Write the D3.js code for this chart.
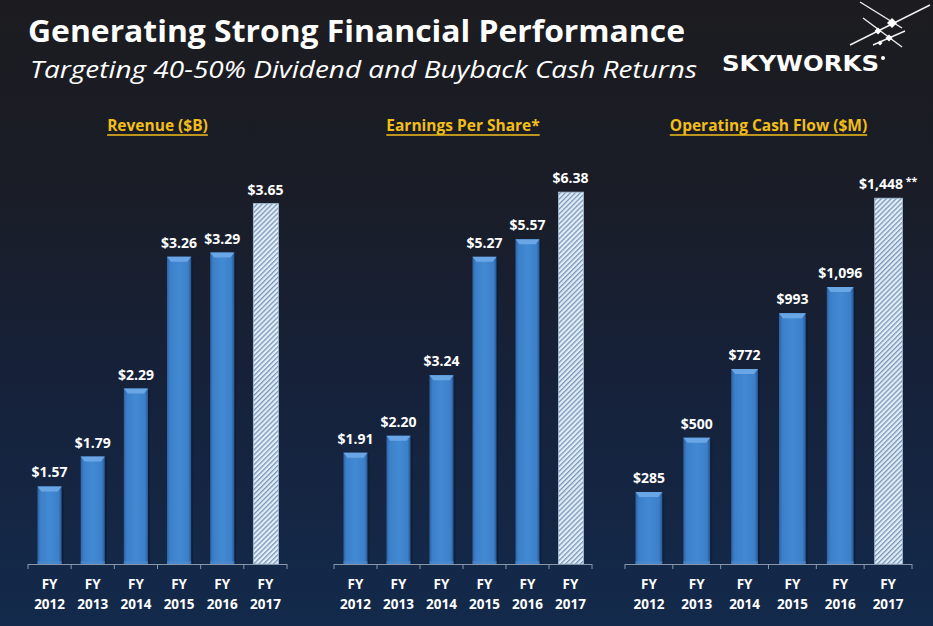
<!DOCTYPE html>
<html><head><meta charset="utf-8">
<script src="https://cdn.jsdelivr.net/npm/d3@7"></script>
<style>html,body{margin:0;padding:0;background:#16213a;}svg{display:block;}</style>
</head><body>
<script>
const years = ["FY 2012","FY 2013","FY 2014","FY 2015","FY 2016","FY 2017"];
const revenue = [1.57,1.79,2.29,3.26,3.29,3.65];
const revenueLabels = ["$1.57","$1.79","$2.29","$3.26","$3.29","$3.65"];
const eps = [1.91,2.20,3.24,5.27,5.57,6.38];
const epsLabels = ["$1.91","$2.20","$3.24","$5.27","$5.57","$6.38"];
const ocf = [285,500,772,993,1096,1448];
const ocfLabels = ["$285","$500","$772","$993","$1,096","$1,448"];
const panelTitles = ["Revenue ($B)","Earnings Per Share*","Operating Cash Flow ($M)"];
const projected = [false,false,false,false,false,true];

const W=933,H=626;
const svg=d3.select("body").append("svg").attr("width",W).attr("height",H);
const defs=svg.append("defs");
const bg=defs.append("linearGradient").attr("id","bg").attr("x1",0).attr("y1",0).attr("x2",0).attr("y2",1);
bg.append("stop").attr("offset","0").attr("stop-color","#1c1c20");
bg.append("stop").attr("offset","0.3").attr("stop-color","#1a1d27");
bg.append("stop").attr("offset","0.6").attr("stop-color","#162139");
bg.append("stop").attr("offset","1").attr("stop-color","#132a4c");
svg.append("rect").attr("width",W).attr("height",H).attr("fill","url(#bg)");

const bar=defs.append("linearGradient").attr("id","barg").attr("x1",0).attr("y1",0).attr("x2",1).attr("y2",0);
bar.append("stop").attr("offset","0").attr("stop-color","#2c62a2");
bar.append("stop").attr("offset","0.12").attr("stop-color","#3c7fc9");
bar.append("stop").attr("offset","0.5").attr("stop-color","#428ad3");
bar.append("stop").attr("offset","0.88").attr("stop-color","#3c7fc9");
bar.append("stop").attr("offset","1").attr("stop-color","#25568f");

const pat=defs.append("pattern").attr("id","hatch").attr("patternUnits","userSpaceOnUse")
  .attr("width",3.5).attr("height",3.5).attr("patternTransform","rotate(45)");
pat.append("rect").attr("width",3.5).attr("height",3.5).attr("fill","#e2eef8");
pat.append("rect").attr("width",1.3).attr("height",3.5).attr("fill","#7896b8");

// Titles
svg.append("text").attr("x",28).attr("y",42).text("Generating Strong Financial Performance")
  .attr("font-family","Open Sans, sans-serif").attr("font-weight",700).attr("font-size",31)
  .attr("fill","#fff").attr("textLength",657).attr("lengthAdjust","spacingAndGlyphs");
svg.append("text").attr("x",30).attr("y",78).text("Targeting 40-50% Dividend and Buyback Cash Returns")
  .attr("font-family","Open Sans, sans-serif").attr("font-style","italic").attr("font-size",24)
  .attr("fill","#fff").attr("textLength",667).attr("lengthAdjust","spacingAndGlyphs");

// Logo
const logo=svg.append("g");
logo.append("text").attr("x",722).attr("y",71).text("SKYWORKS")
  .attr("font-family","DejaVu Sans, sans-serif").attr("font-weight",700).attr("font-size",21)
  .attr("fill","#fff").attr("textLength",157).attr("lengthAdjust","spacingAndGlyphs");
logo.append("circle").attr("cx",883).attr("cy",58).attr("r",2).attr("fill","#fff");
[[860,2,902,28],[930,5,850,45],[863,18,902,47],[905,31,873,45]].forEach(l=>{
  logo.append("line").attr("x1",l[0]).attr("y1",l[1]).attr("x2",l[2]).attr("y2",l[3])
   .attr("stroke","#f0f0f0").attr("stroke-width",1.4);
});
[[892,23,5],[878,31,3.5],[889,38,3.5],[880,43,2.5]].forEach(d=>{
  logo.append("path").attr("d",`M${d[0]-d[2]},${d[1]}L${d[0]},${d[1]-d[2]}L${d[0]+d[2]},${d[1]}L${d[0]},${d[1]+d[2]}Z`).attr("fill","#fff");
});

const panels=[
  {x0:28,x1:287,values:revenue,labels:revenueLabels,domain:[1,4],title:panelTitles[0]},
  {x0:334,x1:592,values:eps,labels:epsLabels,domain:[0,7],title:panelTitles[1]},
  {x0:625,x1:912,values:ocf,labels:ocfLabels,domain:[0,1615],title:panelTitles[2],star:true}
];
const baseY=564, topY=156;

panels.forEach((p,pi)=>{
  const g=svg.append("g");
  const x=d3.scaleBand().domain(years).range([p.x0,p.x1]).padding(0);
  const y=d3.scaleLinear().domain(p.domain).range([baseY,topY]);
  const bw=x.bandwidth()*0.56;
  const cx=(p.x0+p.x1)/2;
  const t=g.append("text").attr("x",cx).attr("y",131).attr("text-anchor","middle").text(p.title)
    .attr("font-family","Open Sans, sans-serif").attr("font-weight",700).attr("font-size",15.5)
    .attr("fill","#f2be1a");
  const tb=t.node().getBBox();
  g.append("line").attr("x1",tb.x).attr("x2",tb.x+tb.width).attr("y1",135).attr("y2",135)
    .attr("stroke","#f2be1a").attr("stroke-width",1.5);

  years.forEach((yr,i)=>{
    const v=p.values[i];
    const bx=x(yr)+(x.bandwidth()-bw)/2;
    const by=y(v);
    const h=baseY-by;
    if(projected[i]){
      g.append("rect").attr("x",bx).attr("y",by).attr("width",bw+1).attr("height",h)
        .attr("fill","url(#hatch)").attr("stroke","#a9bfd6").attr("stroke-width",0.8);
    } else {
      g.append("rect").attr("x",bx+2).attr("y",by+2).attr("width",bw).attr("height",h-2)
        .attr("fill","#0d1a30").attr("opacity",0.6);
      g.append("rect").attr("x",bx).attr("y",by).attr("width",bw).attr("height",h)
        .attr("fill","url(#barg)");
      g.append("path").attr("d",`M${bx},${by}L${bx+bw},${by}L${bx+bw-4},${by+5}L${bx+4},${by+5}Z`)
        .attr("fill","#6aa6e6");
      g.append("rect").attr("x",bx).attr("y",baseY-3).attr("width",bw).attr("height",3).attr("fill","#4c8bcf").attr("opacity",0.6);
    }
    const lx=x(yr)+x.bandwidth()/2;
    const lt=g.append("text").attr("x",lx).attr("y",by-9).attr("text-anchor","middle")
      .attr("font-family","Open Sans, sans-serif").attr("font-weight",700).attr("font-size",14)
      .attr("fill","#fff").text(p.labels[i]);
    if(p.star && projected[i]){
      lt.append("tspan").attr("dy",-4).attr("font-size",10.5).text(" **");
    }
  });
  g.append("line").attr("x1",p.x0).attr("x2",p.x1).attr("y1",baseY+0.5).attr("y2",baseY+0.5)
    .attr("stroke","#8796ab").attr("stroke-width",1);
  [p.x0].concat(years.map(yr=>x(yr)+x.bandwidth())).forEach(tx=>{
    g.append("line").attr("x1",tx).attr("x2",tx).attr("y1",baseY).attr("y2",baseY+5)
      .attr("stroke","#8796ab").attr("stroke-width",1);
  });
  years.forEach(yr=>{
    const parts=yr.split(" ");
    const tt=g.append("text").attr("text-anchor","middle")
      .attr("font-family","Open Sans, sans-serif").attr("font-weight",700).attr("font-size",13.5)
      .attr("fill","#fff");
    tt.append("tspan").attr("x",x(yr)+x.bandwidth()/2).attr("y",589).text(parts[0]);
    tt.append("tspan").attr("x",x(yr)+x.bandwidth()/2).attr("y",609).text(parts[1]);
  });
});
</script>
</body></html>
